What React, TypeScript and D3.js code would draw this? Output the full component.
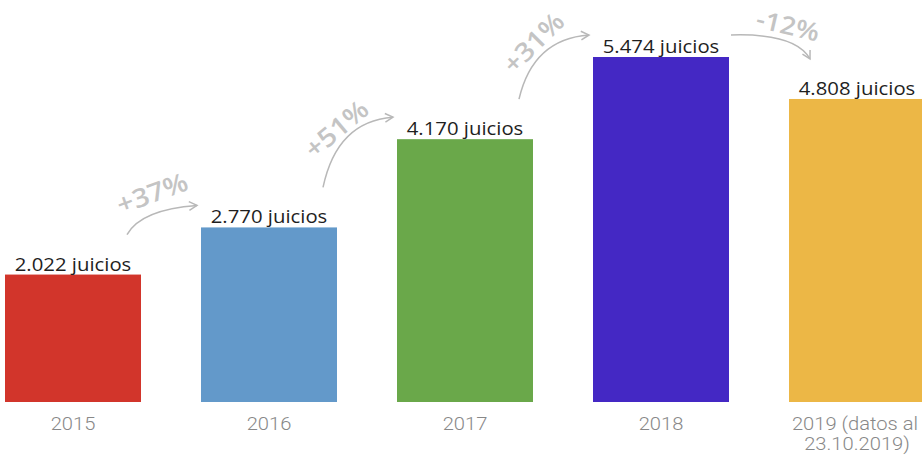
import React from "react";
import * as d3 from "d3";

const categories = ["2015", "2016", "2017", "2018", "2019"];
const axisLabels = [["2015"], ["2016"], ["2017"], ["2018"], ["2019 (datos al", "23.10.2019)"]];
const values = [2022, 2770, 4170, 5474, 4808];
const valueLabels = ["2.022 juicios", "2.770 juicios", "4.170 juicios", "5.474 juicios", "4.808 juicios"];
const colors = ["#d2352b", "#6399ca", "#6aa84a", "#4428c4", "#ecb746"];
const changeLabels = ["+37%", "+51%", "+31%", "-12%"];

const W = 922;
const H = 455;

export default function App() {
  const x = d3.scaleBand<string>().domain(categories).range([5, 925]).paddingInner(60 / 196).paddingOuter(0);
  const y = d3.scaleLinear().domain([0, 5474]).range([402, 57]);
  const bw = x.bandwidth();

  const anns = changeLabels.map((lab, i) => {
    const a = categories[i];
    const b = categories[i + 1];
    const up = values[i + 1] >= values[i];
    const xa = x(a)!;
    const xb = x(b)!;
    const ya = y(values[i]);
    const yb = y(values[i + 1]);
    if (up) {
      const s = [xa + 122, ya - 40];
      const e = [xb - 4, yb - 22];
      const c = [s[0] + 14, e[1] + 4];
      return { lab, s, e, c, up };
    } else {
      const s = [xa + bw + 2, ya - 22];
      const e = [xb + 21, yb - 40];
      const c = [e[0] - 14, s[1] - 2];
      return { lab, s, e, c, up };
    }
  });
  const textPos = [
    { dx: 25, dy: -42, rot: -20 },
    { dx: 13, dy: -59, rot: -40 },
    { dx: 14, dy: -57, rot: -45 },
    { dx: 57, dy: -10, rot: 13 },
  ];

  const arrowHead = (e: number[], c: number[]) => {
    const ang = Math.atan2(e[1] - c[1], e[0] - c[0]);
    const L = 9;
    const sp = 0.5;
    const p1 = [e[0] - L * Math.cos(ang - sp), e[1] - L * Math.sin(ang - sp)];
    const p2 = [e[0] - L * Math.cos(ang + sp), e[1] - L * Math.sin(ang + sp)];
    return `M${p1[0]},${p1[1]}L${e[0]},${e[1]}L${p2[0]},${p2[1]}`;
  };

  return (
    <svg width={W} height={H} style={{ position: "absolute", left: 0, top: 0, background: "#fff" }}>
      {categories.map((c, i) => (
        <rect key={c} x={x(c)} y={y(values[i])} width={bw} height={y(0) - y(values[i])} fill={colors[i]} />
      ))}
      {categories.map((c, i) => (
        <text
          key={"v" + c}
          transform={`translate(${x(c)! + bw / 2},${y(values[i]) - 4}) scale(1.13,1)`}
          textAnchor="middle"
          fontFamily="'Open Sans', sans-serif"
          fontSize={18}
          fill="#1f1f1f"
        >
          {valueLabels[i]}
        </text>
      ))}
      {categories.map((c, i) =>
        axisLabels[i].map((l, j) => (
          <text
            key={"a" + c + j}
            transform={`translate(${x(c)! + bw / 2 - (j === 0 && i === 4 ? 2 : 0)},${430 + j * 20}) scale(1.12,1)`}
            textAnchor="middle"
            fontFamily="Roboto, sans-serif"
            fontWeight={300}
            fontSize={18}
            fill="#888888"
          >
            {l}
          </text>
        ))
      )}
      {anns.map((a, i) => (
        <g key={"ann" + i}>
          <path
            d={`M${a.s[0]},${a.s[1]}Q${a.c[0]},${a.c[1]} ${a.e[0]},${a.e[1]}`}
            fill="none"
            stroke="#b8b8b8"
            strokeWidth={1.5}
          />
          <path d={arrowHead(a.e, a.c)} fill="none" stroke="#b8b8b8" strokeWidth={1.5} />
          <text
            transform={`translate(${a.s[0] + textPos[i].dx},${a.s[1] + textPos[i].dy}) rotate(${textPos[i].rot}) scale(1.1,1)`}
            textAnchor="middle"
            dominantBaseline="central"
            fontFamily="'Open Sans', sans-serif"
            fontWeight={600}
            fontSize={i === 3 ? 25 : 26}
            fill="#c4c4c4"
          >
            {a.lab}
          </text>
        </g>
      ))}
    </svg>
  );
}
